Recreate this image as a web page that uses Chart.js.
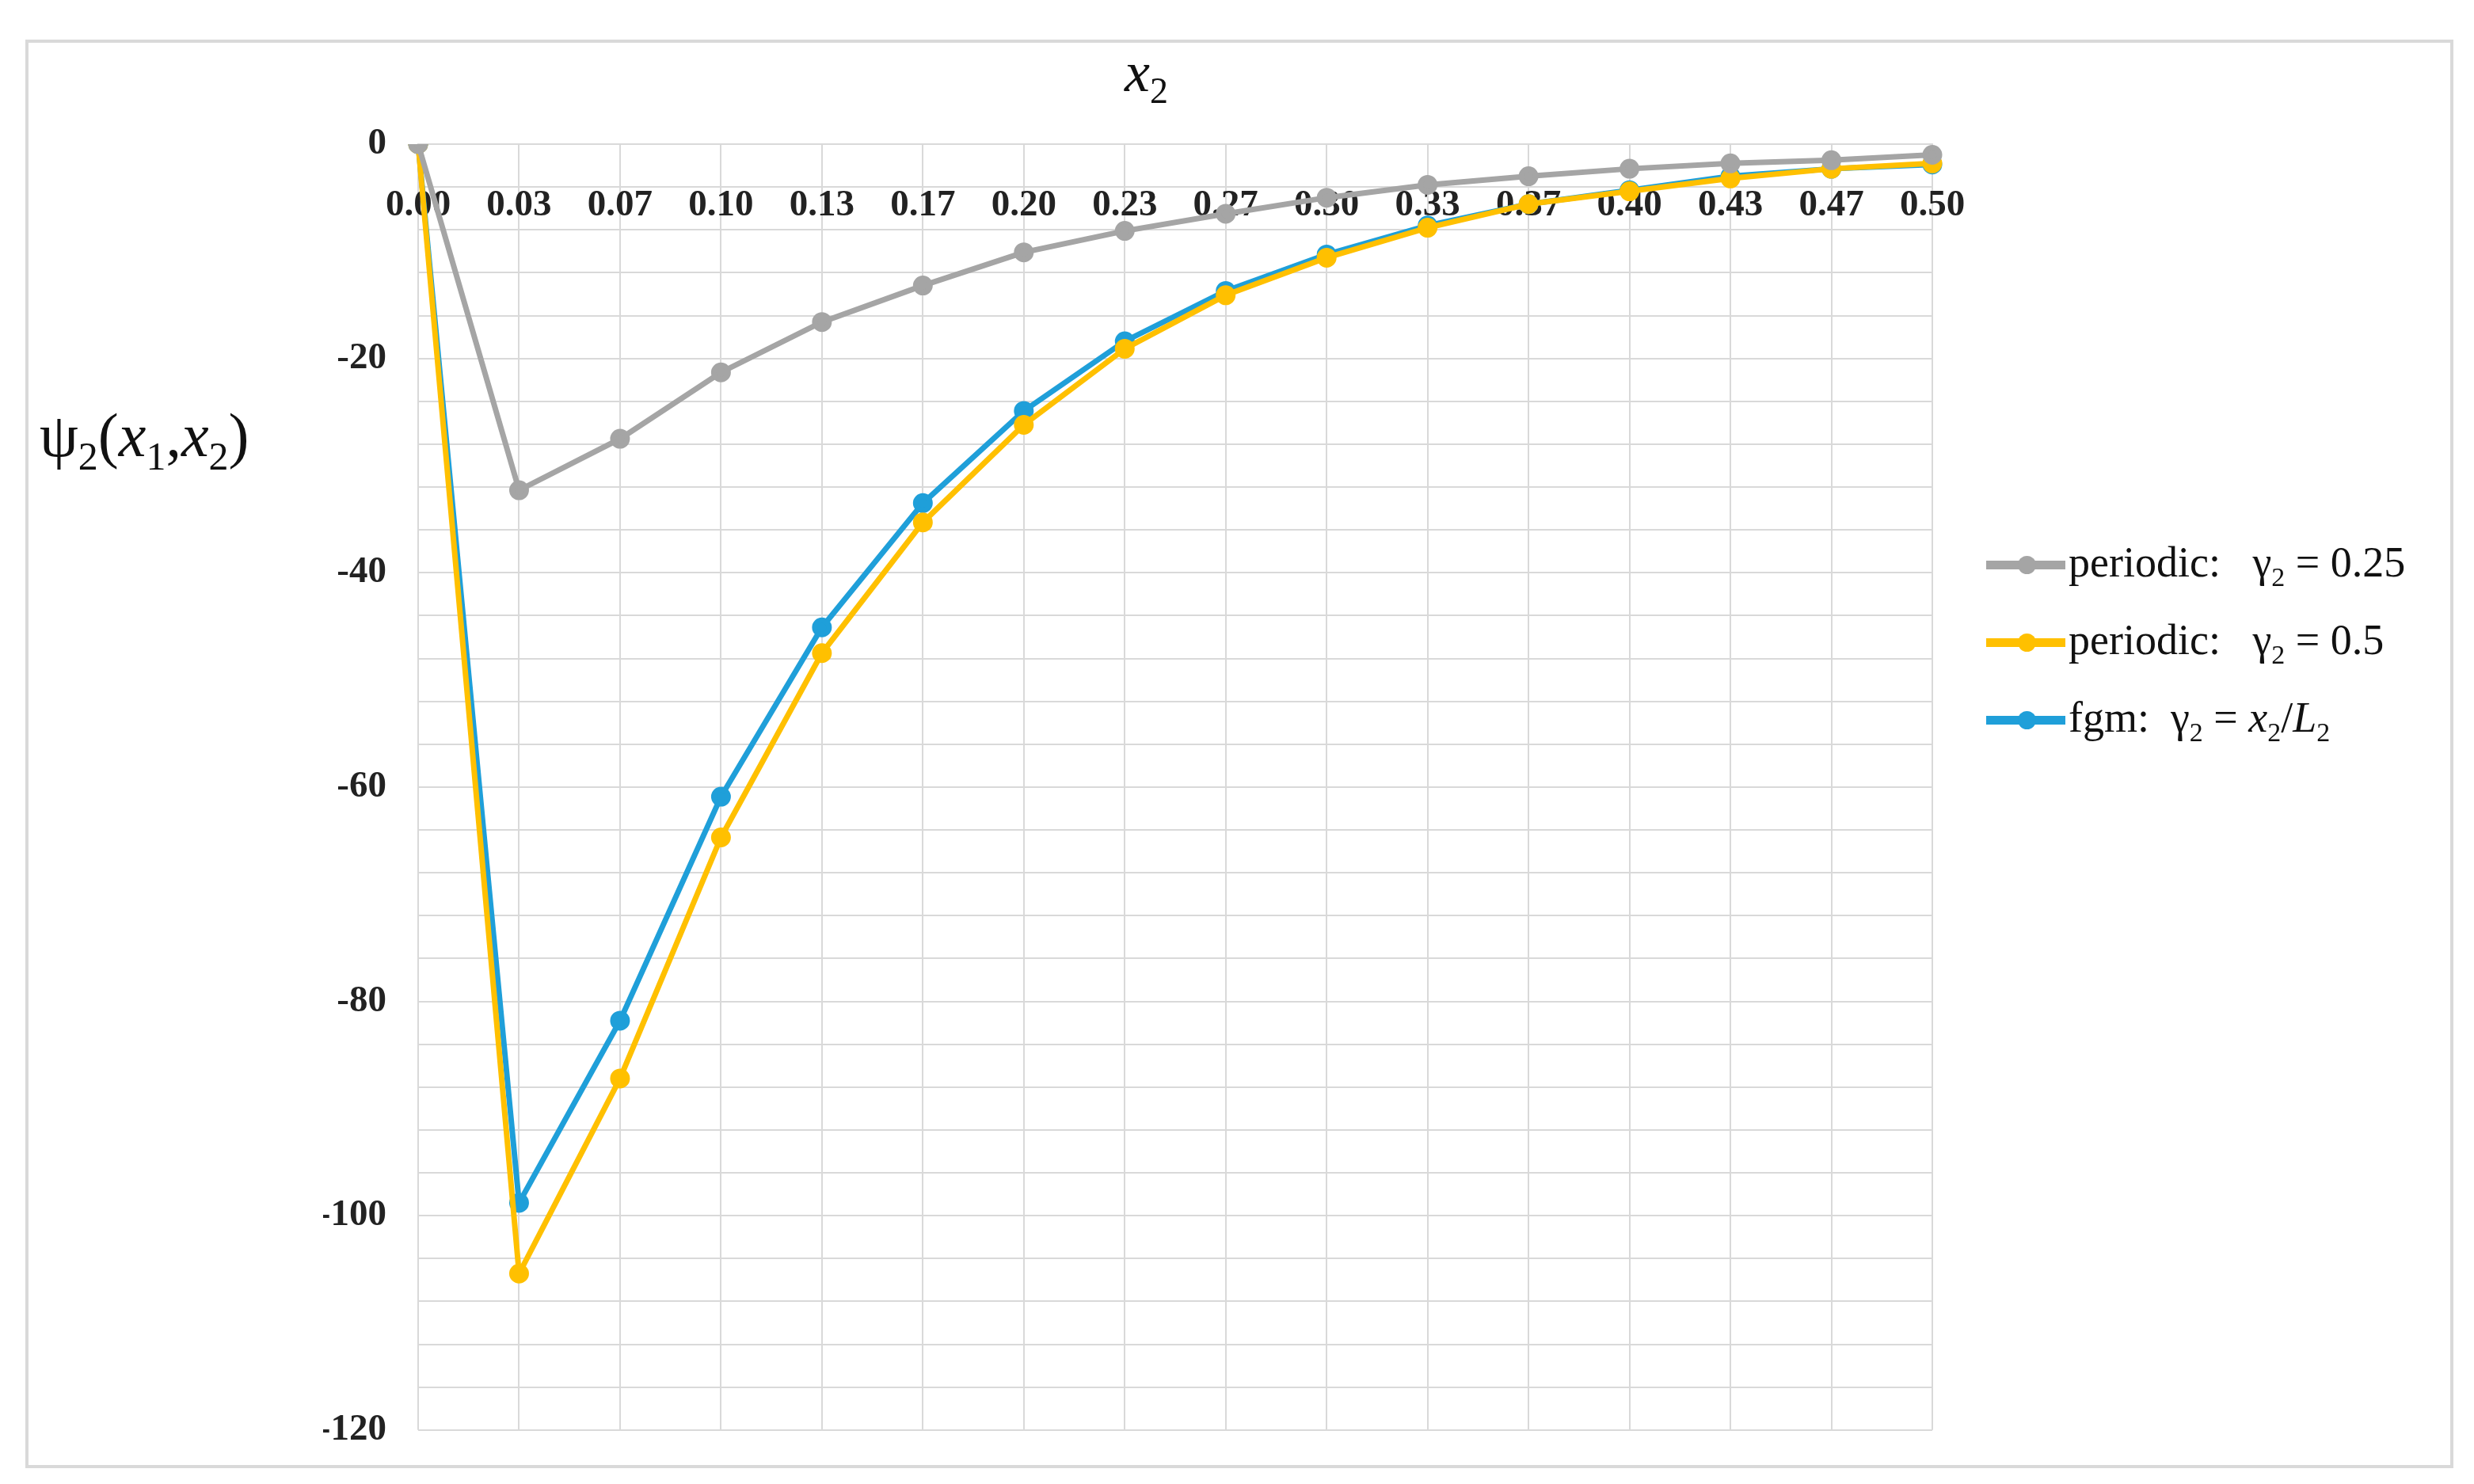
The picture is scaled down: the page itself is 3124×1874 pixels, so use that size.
<!DOCTYPE html>
<html>
<head>
<meta charset="UTF-8">
<title>psi2</title>
<script src="https://cdn.jsdelivr.net/npm/chart.js"></script>
<style>
    body { margin: 0; background: #fff; }
    #wrap { position: relative; width: 3124px; height: 1874px; }
    #frame { position: absolute; left: 32px; top: 50px; width: 3058px; height: 1796px; border: 4px solid #d9d9d9; pointer-events: none; }
    .t { position: absolute; font-family: 'Liberation Serif', serif; color: #111; }
    #xt { left: 1420px; top: 50px; font-size: 72px; font-style: italic; }
    #yt { left: 50px; top: 505px; font-size: 78px; }
    #legend { position: absolute; left: 2508px; top: 664px; font-family: 'Liberation Serif', serif; font-size: 54px; color: #111; }
    .row { display: flex; align-items: center; height: 98px; }
    .key { position: relative; width: 100px; height: 11px; margin-right: 4px; }
    .key i { position: absolute; left: 40px; top: -6px; width: 23px; height: 23px; border-radius: 50%; }
    canvas { position: absolute; left: 0; top: 0; }
</style>
</head>
<body>
<div id="wrap">
    <canvas id="c" width="3124" height="1874"></canvas>
    <div id="frame"></div>
    <div class="t" id="xt">x<sub style="font-style:normal;font-size:46px">2</sub></div>
    <div class="t" id="yt">ψ<sub style="font-size:50px">2</sub>(<i>x</i><sub style="font-size:50px">1</sub>,<i>x</i><sub style="font-size:50px">2</sub>)</div>
    <div id="legend"></div>
</div>
<script>
    const labels = ['0.00', '0.03', '0.07', '0.10', '0.13', '0.17', '0.20', '0.23', '0.27', '0.30', '0.33', '0.37', '0.40', '0.43', '0.47', '0.50'];
    const periodic025 = [0, -32.3, -27.5, -21.3, -16.6, -13.2, -10.1, -8.1, -6.5, -5.0, -3.8, -3.0, -2.3, -1.8, -1.5, -1.0];
    const periodic05 = [0, -105.4, -87.2, -64.7, -47.5, -35.3, -26.2, -19.1, -14.1, -10.6, -7.8, -5.6, -4.4, -3.2, -2.3, -1.8];
    const fgm = [0, -98.8, -81.8, -60.9, -45.1, -33.5, -24.9, -18.4, -13.7, -10.3, -7.6, -5.6, -4.3, -3.0, -2.3, -1.9];
    const names = ['periodic:&nbsp;&nbsp; γ<sub style="font-size:34px">2</sub> = 0.25',
                   'periodic:&nbsp;&nbsp; γ<sub style="font-size:34px">2</sub> = 0.5',
                   'fgm:&nbsp; γ<sub style="font-size:34px">2</sub> = <i>x</i><sub style="font-size:34px">2</sub>/<i>L</i><sub style="font-size:34px">2</sub>'];
    const colors = ['#a5a5a5', '#ffc000', '#1f9fd9'];

    const series = [periodic025, periodic05, fgm];
    const ds = series.map((d, i) => ({
        label: 's' + i,
        data: d,
        borderColor: colors[i],
        backgroundColor: colors[i],
        borderWidth: 7,
        pointRadius: 9,
        pointHoverRadius: 9,
        tension: 0
    }));

    const lg = document.getElementById('legend');
    names.forEach((n, i) => {
        lg.innerHTML += '<div class="row"><div class="key" style="background:' + colors[i] + '"><i style="background:' + colors[i] + '"></i></div><span>' + n + '</span></div>';
    });

    new Chart(document.getElementById('c'), {
        type: 'line',
        data: { labels: labels, datasets: ds },
        options: {
            responsive: false,
            animation: false,
            devicePixelRatio: 1,
            layout: { padding: { left: 408, right: 684, top: 182, bottom: 62 } },
            plugins: { legend: { display: false }, tooltip: { enabled: false } },
            scales: {
                x: {
                    position: { y: 0 },
                    offset: false,
                    grid: { color: '#d9d9d9', lineWidth: 2, drawTicks: false },
                    border: { color: '#d9d9d9', width: 2 },
                    ticks: { padding: 50, maxRotation: 0, autoSkip: false, color: '#222', font: { family: 'Liberation Serif', size: 47, weight: 'bold' } }
                },
                y: {
                    min: -120, max: 0,
                    afterFit: s => { s.width = 120; },
                    grid: { color: '#d9d9d9', lineWidth: 2, drawTicks: false },
                    border: { display: false },
                    ticks: {
                        stepSize: 4, autoSkip: false, padding: 40, color: '#222',
                        font: { family: 'Liberation Serif', size: 47, weight: 'bold' },
                        callback: v => (Math.round(v) % 20 === 0 ? v : '')
                    }
                }
            }
        }
    });
</script>
</body>
</html>
